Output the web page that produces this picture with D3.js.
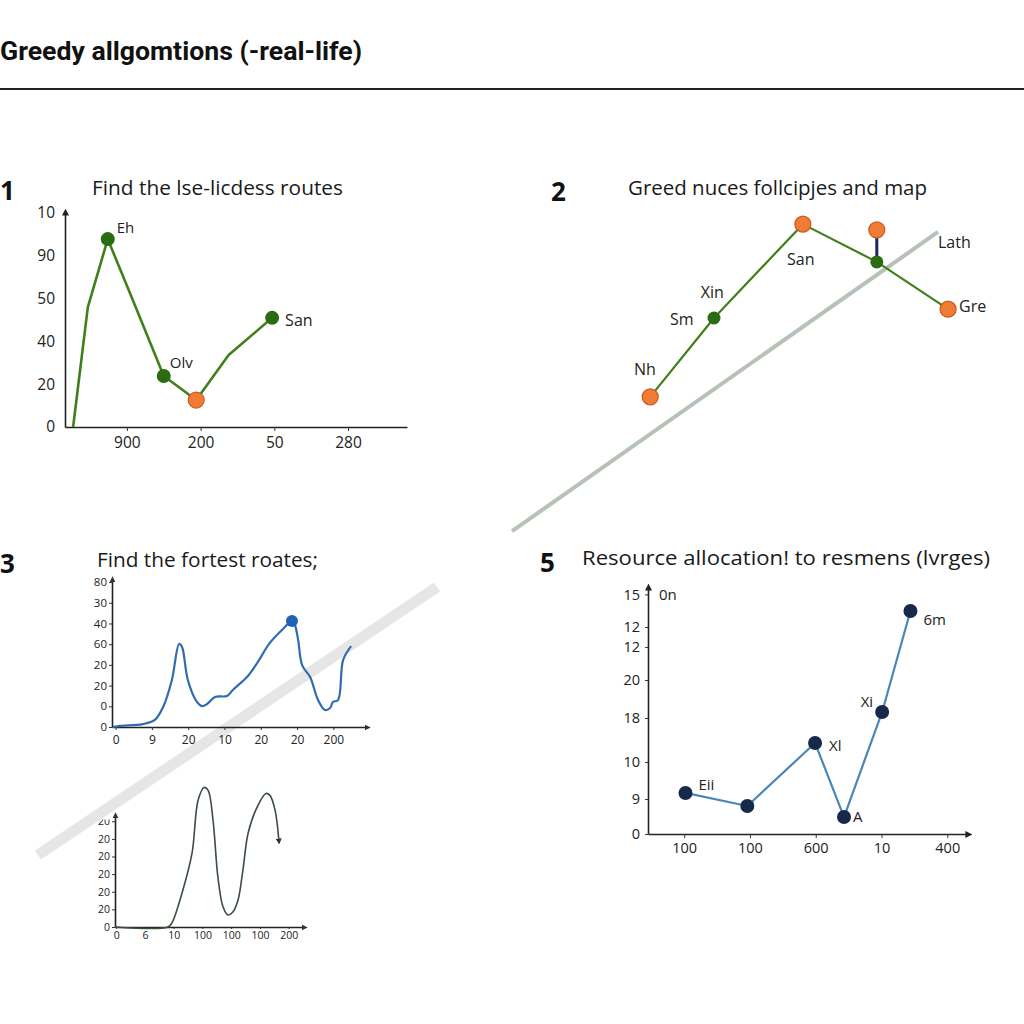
<!DOCTYPE html>
<html><head><meta charset="utf-8">
<script src="https://cdn.jsdelivr.net/npm/d3@7"></script>
<style>body{margin:0;background:#fff}svg{display:block}</style>
</head><body><svg id="c" width="1024" height="1024"></svg>
<script>
// ---------------- DATA ----------------
const mainTitle = "Greedy allgomtions (-real-life)";
const panelNumbers = ["1", "2", "3", "5"];
const panelTitles = ["Find the lse-licdess routes", "Greed nuces follcipjes and map", "Find the fortest roates;", "Resource allocation! to resmens (lvrges)"];

// Panel 1
const p1XTicks = ["900", "200", "50", "280"];
const p1YTicks = ["0", "20", "40", "50", "90", "10"];
const p1LineX = [0.27, 0.47, 0.74, 1.07, 1.50, 1.94, 2.38, 2.97];
const p1LineY = [0, 2.80, 4.39, 3.01, 1.19, 0.63, 1.68, 2.55];
const p1PointX = [0.74, 1.50, 1.94, 2.97];
const p1PointY = [4.39, 1.19, 0.63, 2.55];
const p1PointKind = ["g", "g", "o", "g"];
const p1PointNames = ["Eh", "Olv", "", "San"];

// Panel 2
const p2PathX = [20.5, 35, 55.2, 72, 88.2];
const p2PathY = [42.1, 65.3, 92.9, 81.8, 67.9];
const p2PointX = [20.5, 35, 55.2, 72, 72, 88.2];
const p2PointY = [42.1, 65.3, 92.9, 81.8, 91.2, 67.9];
const p2PointKind = ["o", "g", "o", "g", "o", "o"];
const p2StemX = [72, 72];
const p2StemY = [81.8, 91.2];
const p2GuideX = [-10.9, 85.9];
const p2GuideY = [2.6, 90.6];
const p2Labels = ["Nh", "Sm", "Xin", "San", "Lath", "Gre"];
const p2LabelX = [16.8, 25, 32, 51.6, 85.9, 90.7];
const p2LabelY = [48.5, 63.2, 71.2, 80.9, 85.9, 67.1];

// Panel 3
const p3XTicks = ["0", "9", "20", "10", "20", "20", "200"];
const p3YTicks = ["0", "0", "20", "20", "60", "40", "30", "80"];
const p3CurveX = [-0.07, 0.12, 0.75, 1.08, 1.31, 1.55, 1.75, 1.83, 1.99, 2.24, 2.38, 2.52, 2.74, 3.07, 3.23, 3.62, 3.90, 4.25, 4.61, 4.86, 4.94, 5.03, 5.14, 5.36, 5.58, 5.77, 5.91, 5.99, 6.13, 6.27, 6.49];
const p3CurveY = [0, 0.05, 0.14, 0.34, 0.97, 2.27, 4.01, 3.86, 2.27, 1.21, 1.01, 1.11, 1.45, 1.50, 1.79, 2.41, 3.09, 4.06, 4.73, 5.12, 4.93, 4.20, 2.99, 2.41, 1.30, 0.82, 0.92, 1.21, 1.30, 3.24, 3.91];
const p3DotX = [4.86];
const p3DotY = [5.12];
const p3GuideX = [-2.14, 8.86];
const p3GuideY = [-6.18, 6.76];

// Panel 4
const p4XTicks = ["0", "6", "10", "100", "100", "100", "200"];
const p4YTicks = ["0", "20", "20", "20", "20", "20", "20"];
const p4CurveX = [-0.04, 1.80, 1.94, 2.29, 2.64, 2.85, 3.06, 3.20, 3.37, 3.54, 3.72, 3.89, 4.06, 4.24, 4.41, 4.59, 4.90, 5.21, 5.35, 5.53, 5.66];
const p4CurveY = [0, 0, 0.23, 1.92, 4.19, 7.19, 7.92, 7.75, 6.06, 2.83, 1.13, 0.68, 0.85, 1.53, 3.23, 5.32, 6.79, 7.58, 7.47, 6.62, 4.92];

// Panel 5
const p5XTicks = ["100", "100", "600", "10", "400"];
const p5YTickValues = [0, 2.19, 4.51, 7.26, 9.64, 11.71, 12.96, 15];
const p5YTicks = ["0", "9", "10", "18", "20", "12", "12", "15"];
const p5UnitLabel = "0n";
const p5X = [0.02, 0.96, 1.99, 2.43, 3.01, 3.44];
const p5Y = [2.57, 1.75, 5.70, 1.06, 7.64, 13.96];
const p5Names = ["Eii", "", "Xl", "A", "Xi", "6m"];

// ---------------- DRAW ----------------
const FONT = "'Open Sans','Noto Sans',sans-serif";
const svg = d3.select("#c");
svg.append("rect").attr("width", 1024).attr("height", 1024).attr("fill", "#ffffff");
const defs = svg.append("defs");
function marker(id, color, size) {
  defs.append("marker").attr("id", id).attr("viewBox", "0 0 10 10")
    .attr("refX", 3).attr("refY", 5).attr("markerWidth", size).attr("markerHeight", size)
    .attr("markerUnits", "userSpaceOnUse").attr("orient", "auto")
    .append("path").attr("d", "M0,0L10,5L0,10z").attr("fill", color);
}
marker("arrAxis", "#222", 7);
marker("arrSmall", "#333", 6);
defs.append("clipPath").attr("id", "clipTop").append("rect")
  .attr("x", 0).attr("y", 819.5).attr("width", 200).attr("height", 20);

const GREEN_LINE = "#3f801c", GREEN_DOT = "#2b6b12", ORANGE = "#f07b33", ORANGE_STROKE = "#c65d22";

// Title
svg.append("text").attr("x", 0).attr("y", 60).text(mainTitle)
  .attr("font-family", "Roboto,'Liberation Sans',sans-serif").attr("font-weight", 700)
  .attr("font-size", 25).attr("fill", "#111").attr("textLength", 362).attr("lengthAdjust", "spacingAndGlyphs");
svg.append("line").attr("x1", 0).attr("x2", 1024).attr("y1", 89).attr("y2", 89)
  .attr("stroke", "#222").attr("stroke-width", 2);

// Panel numbers and titles
const numPos = [[0, 200], [551, 201], [0, 573], [540, 572]];
numPos.forEach((p, i) => {
  svg.append("text").attr("x", p[0]).attr("y", p[1]).text(panelNumbers[i])
    .attr("font-family", FONT).attr("font-weight", 700).attr("font-size", 26).attr("fill", "#111");
});
const titlePos = [[92, 195, 251], [628, 195, 299], [97, 567, 221], [582, 565, 408]];
titlePos.forEach((p, i) => {
  svg.append("text").attr("x", p[0]).attr("y", p[1]).text(panelTitles[i])
    .attr("font-family", FONT).attr("font-size", 20).attr("fill", "#1a1a1a")
    .attr("textLength", p[2]).attr("lengthAdjust", "spacingAndGlyphs");
});

function styleAxis(g, size, arrowId) {
  g.attr("font-family", FONT).attr("font-size", size);
  g.selectAll("text").attr("fill", "#222");
  g.selectAll(".tick line").attr("stroke", "#333");
  g.select(".domain").attr("stroke", "#222").attr("stroke-width", 1.6);
  if (arrowId) g.select(".domain").attr("marker-end", `url(#${arrowId})`);
}

// ===== Panel 1 =====
{
  const x = d3.scaleLinear().domain([0.16, 4.8]).range([65, 407]);
  const y = d3.scaleLinear().domain([0, 5]).range([427, 213]);
  const gx = svg.append("g").attr("transform", "translate(0,427)")
    .call(d3.axisBottom(x).tickValues([1, 2, 3, 4]).tickFormat((d, i) => p1XTicks[i]).tickSize(4).tickPadding(6).tickSizeOuter(0));
  styleAxis(gx, 15.5);
  const gy = svg.append("g").attr("transform", "translate(65,0)")
    .call(d3.axisLeft(y).tickValues(d3.range(6)).tickFormat((d, i) => p1YTicks[i]).tickSize(0).tickPadding(10).tickSizeOuter(0));
  styleAxis(gy, 15.5, "arrAxis");
  const pts = p1LineX.map((v, i) => [v, p1LineY[i]]);
  svg.append("path").datum(pts).attr("fill", "none").attr("stroke", GREEN_LINE).attr("stroke-width", 2.6)
    .attr("stroke-linejoin", "round").attr("d", d3.line().x(d => x(d[0])).y(d => y(d[1])));
  const lab = [[9, -6], [6, -8], [0, 0], [13, 8]];
  p1PointX.forEach((v, i) => {
    const o = p1PointKind[i] === "o";
    svg.append("circle").attr("cx", x(v)).attr("cy", y(p1PointY[i])).attr("r", o ? 8 : 7)
      .attr("fill", o ? ORANGE : GREEN_DOT).attr("stroke", o ? ORANGE_STROKE : "none").attr("stroke-width", 1.2);
    if (p1PointNames[i]) svg.append("text").attr("x", x(v) + lab[i][0]).attr("y", y(p1PointY[i]) + lab[i][1])
      .text(p1PointNames[i]).attr("font-family", FONT).attr("font-size", i === 3 ? 16 : 15).attr("fill", "#222");
  });
}

// ===== Panel 2 =====
{
  const x = d3.scaleLinear().domain([0, 100]).range([560, 1000]);
  const y = d3.scaleLinear().domain([0, 100]).range([540, 200]);
  const ln = d3.line().x(d => x(d[0])).y(d => y(d[1]));
  svg.append("path").datum(p2GuideX.map((v, i) => [v, p2GuideY[i]])).attr("d", ln)
    .attr("stroke", "#b7c2b7").attr("stroke-width", 4).attr("fill", "none");
  svg.append("path").datum(p2PathX.map((v, i) => [v, p2PathY[i]])).attr("d", ln)
    .attr("stroke", GREEN_LINE).attr("stroke-width", 2.2).attr("fill", "none").attr("stroke-linejoin", "round");
  svg.append("path").datum(p2StemX.map((v, i) => [v, p2StemY[i]])).attr("d", ln)
    .attr("stroke", "#1b2566").attr("stroke-width", 3).attr("fill", "none");
  p2PointX.forEach((v, i) => {
    const o = p2PointKind[i] === "o";
    svg.append("circle").attr("cx", x(v)).attr("cy", y(p2PointY[i])).attr("r", o ? 8 : 6.5)
      .attr("fill", o ? ORANGE : GREEN_DOT).attr("stroke", o ? ORANGE_STROKE : "none").attr("stroke-width", 1.2);
  });
  p2Labels.forEach((t, i) => {
    svg.append("text").attr("x", x(p2LabelX[i])).attr("y", y(p2LabelY[i])).text(t)
      .attr("font-family", FONT).attr("font-size", 16).attr("fill", "#222");
  });
}

// ===== Panel 3 =====
{
  const x = d3.scaleLinear().domain([-0.1, 6.9]).range([112, 366]);
  const y = d3.scaleLinear().domain([0, 7.1]).range([727, 580]);
  const ln = d3.line().x(d => x(d[0])).y(d => y(d[1]));
  svg.append("path").datum(p3GuideX.map((v, i) => [v, p3GuideY[i]])).attr("d", ln)
    .attr("stroke", "#e6e6e6").attr("stroke-width", 11).attr("fill", "none");
  const gx = svg.append("g").attr("transform", "translate(0,727)")
    .call(d3.axisBottom(x).tickValues(d3.range(7)).tickFormat((d, i) => p3XTicks[i]).tickSize(3).tickPadding(5).tickSizeOuter(0));
  styleAxis(gx, 12, "arrSmall");
  const gy = svg.append("g").attr("transform", "translate(112,0)")
    .call(d3.axisLeft(y).tickValues(d3.range(8)).tickFormat((d, i) => p3YTicks[i]).tickSize(3).tickPadding(2).tickSizeOuter(0));
  styleAxis(gy, 11.5, "arrSmall");
  svg.append("path").datum(p3CurveX.map((v, i) => [v, p3CurveY[i]]))
    .attr("d", d3.line().x(d => x(d[0])).y(d => y(d[1])).curve(d3.curveCatmullRom.alpha(0.5)))
    .attr("stroke", "#2f6db0").attr("stroke-width", 2.2).attr("fill", "none");
  p3DotX.forEach((v, i) => svg.append("circle").attr("cx", x(v)).attr("cy", y(p3DotY[i])).attr("r", 6).attr("fill", "#1c62b6"));
}

// ===== Panel 4 =====
{
  const x = d3.scaleLinear().domain([-0.04, 6.5]).range([115, 303]);
  const y = d3.scaleLinear().domain([0, 6.3]).range([927, 816]);
  const gx = svg.append("g").attr("transform", "translate(0,927)")
    .call(d3.axisBottom(x).tickValues(d3.range(7)).tickFormat((d, i) => p4XTicks[i]).tickSize(2).tickPadding(3).tickSizeOuter(0));
  styleAxis(gx, 10.5, "arrSmall");
  const gy = svg.append("g").attr("transform", "translate(115,0)")
    .call(d3.axisLeft(y).tickValues(d3.range(7)).tickFormat((d, i) => p4YTicks[i]).tickSize(3).tickPadding(2).tickSizeOuter(0));
  styleAxis(gy, 10.5, "arrSmall");
  const tt = gy.selectAll(".tick").filter(d => d === 6).select("text");
  const clipG = svg.append("g").attr("clip-path", "url(#clipTop)");
  clipG.append("text").attr("x", 110).attr("y", y(6)).attr("dy", "0.32em").attr("text-anchor", "end")
    .attr("font-family", FONT).attr("font-size", 10.5).attr("fill", "#222").text(p4YTicks[6]);
  tt.remove();
  svg.append("path").datum(p4CurveX.map((v, i) => [v, p4CurveY[i]]))
    .attr("d", d3.line().x(d => x(d[0])).y(d => y(d[1])).curve(d3.curveCatmullRom.alpha(0.5)))
    .attr("stroke", "#3c4f3c").attr("stroke-width", 1.6).attr("fill", "none").attr("marker-end", "url(#arrSmall)");
}

// ===== Panel 5 =====
{
  const x = d3.scaleLinear().domain([-0.55, 4.3]).range([648, 967]);
  const y = d3.scaleLinear().domain([0, 15.4]).range([834, 588]);
  const gx = svg.append("g").attr("transform", "translate(0,834)")
    .call(d3.axisBottom(x).tickValues(d3.range(5)).tickFormat((d, i) => p5XTicks[i]).tickSize(4).tickPadding(5).tickSizeOuter(0));
  styleAxis(gx, 14.5, "arrAxis");
  const gy = svg.append("g").attr("transform", "translate(648,0)")
    .call(d3.axisLeft(y).tickValues(p5YTickValues).tickFormat((d, i) => p5YTicks[i]).tickSize(3).tickPadding(5).tickSizeOuter(0));
  styleAxis(gy, 14.5, "arrAxis");
  svg.append("text").attr("x", 659).attr("y", y(14.65)).text(p5UnitLabel)
    .attr("font-family", FONT).attr("font-size", 15).attr("fill", "#222");
  svg.append("path").datum(p5X.map((v, i) => [v, p5Y[i]]))
    .attr("d", d3.line().x(d => x(d[0])).y(d => y(d[1])))
    .attr("stroke", "#4a86b8").attr("stroke-width", 2.2).attr("fill", "none").attr("stroke-linejoin", "round");
  const lab = [[13, -3, "start"], [0, 0, "start"], [14, 8, "start"], [9, 5, "start"], [-9, -5, "end"], [13, 14, "start"]];
  p5X.forEach((v, i) => {
    svg.append("circle").attr("cx", x(v)).attr("cy", y(p5Y[i])).attr("r", 7).attr("fill", "#16294b");
    if (p5Names[i]) svg.append("text").attr("x", x(v) + lab[i][0]).attr("y", y(p5Y[i]) + lab[i][1])
      .attr("text-anchor", lab[i][2]).text(p5Names[i]).attr("font-family", FONT).attr("font-size", 15).attr("fill", "#222");
  });
}
</script></body></html>
